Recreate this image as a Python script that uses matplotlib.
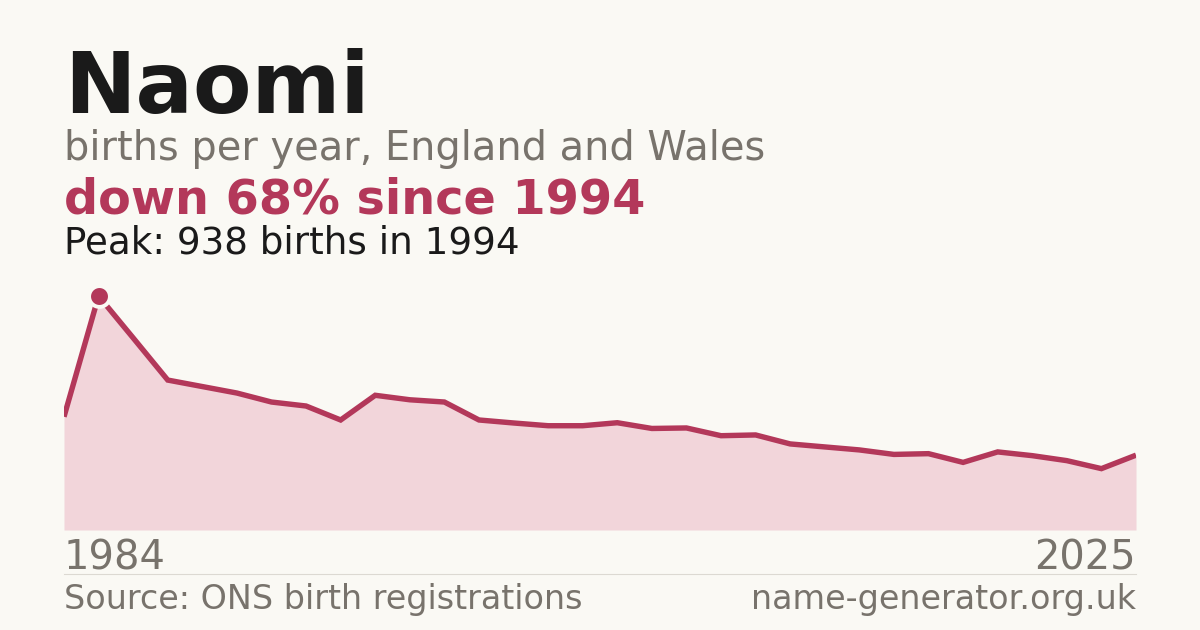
import matplotlib
matplotlib.use("Agg")
import matplotlib.pyplot as plt
import numpy as np

# births per year (first point 1984, then 1994 onwards)
years = [1984] + list(range(1994, 2025))
births = [454, 938, 770, 601, 575, 549, 513, 497, 441, 540, 522, 513,
          441, 429, 418, 418, 430, 407, 409, 378, 381, 345, 333, 321,
          303, 306, 271, 313, 298, 278, 246, 300]
end_labels = ["1984", "2025"]
peak_year = 1994
peak_value = 938

BG = "#faf9f4"
RED = "#b3385a"
FILL = "#f2d5da"
GRAY = "#78736c"
DARK = "#1a1a1a"

W, H = 1200, 630
fig = plt.figure(figsize=(12, 6.3), dpi=100, facecolor=BG)


def px(x, y):
    return x / W, 1 - y / H


# plot area: baseline at y=530, 0.2495 px per birth
ax_top = 280
ax = fig.add_axes([64 / W, (H - 530) / H, 1072 / W, (530 - ax_top) / H])
ax.set_facecolor(BG)
xs = np.arange(len(births))
ax.fill_between(xs, births, 0, color=FILL, lw=0)
ax.plot(xs, births, color=RED, lw=3.9, solid_joinstyle="miter", solid_capstyle="butt")
i_peak = years.index(peak_year)
ax.plot(xs[i_peak], births[i_peak], marker="o", ms=15, color=RED,
        mec=BG, mew=2.8, clip_on=False, zorder=5)
ax.set_xlim(0, len(births) - 1)
ax.set_ylim(0, peak_value * (530 - ax_top) / 234)
ax.axis("off")

# header text
fig.text(*px(64, 113), "Naomi", fontsize=61.4, fontweight="bold", color=DARK, va="baseline")
fig.text(*px(64, 160), "births per year, England and Wales", fontsize=28.7, color=GRAY, va="baseline")
fig.text(*px(64, 214), "down 68% since 1994", fontsize=34.4, fontweight="bold", color=RED, va="baseline")
fig.text(*px(64, 253), f"Peak: {peak_value} births in {peak_year}", fontsize=26.8, color=DARK, va="baseline")

# footer
fig.text(*px(64, 570), end_labels[0], fontsize=28.8, color=GRAY, va="baseline")
fig.text(*px(1136, 570), end_labels[1], fontsize=28.8, color=GRAY, va="baseline", ha="right")
fig.add_artist(plt.Line2D([64 / W, 1136 / W], [1 - 574 / H] * 2, color="#dcd9d2", lw=0.8))
fig.text(*px(64, 609), "Source: ONS birth registrations", fontsize=24, color=GRAY, va="baseline")
fig.text(*px(1136, 609), "name-generator.org.uk", fontsize=24, color=GRAY, va="baseline", ha="right")

fig.savefig("out.png", dpi=100, facecolor=BG)
